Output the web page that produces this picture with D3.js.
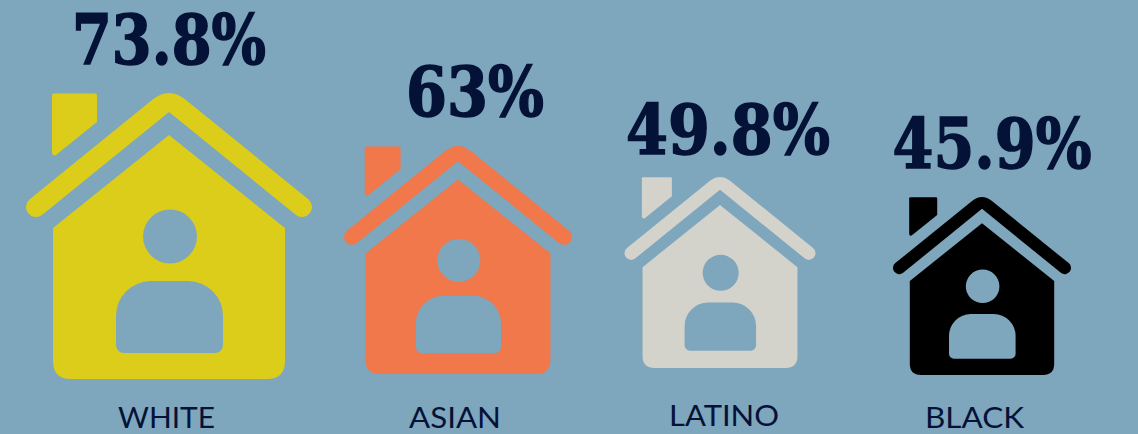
<!DOCTYPE html>
<html><head><meta charset="utf-8">
<script src="https://cdnjs.cloudflare.com/ajax/libs/d3/7.8.5/d3.min.js"></script>
<style>html,body{margin:0;padding:0;background:#7ea6bc}svg{display:block}</style>
</head><body><script>
const categories = ["WHITE","ASIAN","LATINO","BLACK"];
const values = [73.8,63,49.8,45.9];
const valueLabels = ["73.8%","63%","49.8%","45.9%"];
const colors = ["#dbcd1a","#f0784a","#d3d2cb","#000000"];

const W=1138,H=434,BG="#7ea6bc",INK="#051237";
// layout, kept apart from the data
const sizeScale = d3.scaleLinear().domain([45.9,49.8,63,73.8]).range([178,191,228,286]);
const centerX = d3.scaleOrdinal(categories,[169,458,720,982]);
const houseBottom = d3.scaleOrdinal(categories,[379,374,368,375]);
const valueBox = d3.scaleOrdinal(categories,[[169,64,194],[475,116,138],[728,154,204],[992,168,199]]);
const nameBox = d3.scaleOrdinal(categories,[[166.5,428,97],[455,428,92],[724,426,110],[974.5,428.2,99]]);

// house shape in a 286-wide unit box, origin at centre-top
function bodyPath(){
  const p=d3.path(), r=18;
  p.moveTo(0,42);p.lineTo(116,135);p.lineTo(116,286-r);
  p.quadraticCurveTo(116,286,116-r,286);p.lineTo(-116+r,286);
  p.quadraticCurveTo(-116,286,-116,286-r);p.lineTo(-116,135);p.closePath();
  p.moveTo(28,143.5);p.arc(1,143.5,27,0,2*Math.PI);p.closePath();
  const l=-53,rr=54,t=188,b=260,a=35,c=8;
  p.moveTo(l+a,t);p.lineTo(rr-a,t);p.arcTo(rr,t,rr,t+a,a);p.lineTo(rr,b-c);p.arcTo(rr,b,rr-c,b,c);
  p.lineTo(l+c,b);p.arcTo(l,b,l,b-c,c);p.lineTo(l,t+a);p.arcTo(l,t,l+a,t,a);p.closePath();
  return p.toString();
}
function chimneyPath(){
  const p=d3.path();
  p.moveTo(-115,0.5);p.lineTo(-74,0.5);p.quadraticCurveTo(-72,0.5,-72,2.5);p.lineTo(-72,29);
  p.lineTo(-113,62);p.quadraticCurveTo(-117,63,-117,59);p.lineTo(-117,2);p.quadraticCurveTo(-117,0.5,-115,0.5);p.closePath();
  return p.toString();
}
function roofPath(){
  // filled roof band: sharp inner apex, softened outer apex, round ends
  const h=10, ex=133, ey=114, m=0.81, nx=0.63, ny=0.777;
  const outerY=x=>(ey-ex*m-h*Math.hypot(1,m))+Math.abs(x)*m;
  const p=d3.path(), e=16;
  const a0=Math.atan2(ny,nx);
  p.moveTo(-e,outerY(e));
  p.quadraticCurveTo(0,outerY(0),e,outerY(e));
  p.lineTo(ex+nx*h,ey-ny*h);
  p.arc(ex,ey,h,-a0,-a0+Math.PI);
  p.lineTo(0,19);
  p.lineTo(-ex+nx*h,ey+ny*h);
  p.arc(-ex,ey,h,a0,a0+Math.PI);
  p.closePath();
  return p.toString();
}

const svg=d3.select("body").append("svg").attr("width",W).attr("height",H);
svg.append("rect").attr("width",W).attr("height",H).attr("fill",BG);
const rows=categories.map((c,i)=>({c,v:values[i],l:valueLabels[i],col:colors[i]}));
const g=svg.selectAll("g.house").data(rows).join("g").attr("class","house")
  .attr("transform",d=>{const s=sizeScale(d.v)/286;return `translate(${centerX(d.c)},${houseBottom(d.c)-286*s}) scale(${s})`;});
g.append("path").attr("d",chimneyPath()).attr("fill",d=>d.col);
g.append("path").attr("d",roofPath()).attr("fill",d=>d.col);
g.append("path").attr("d",bodyPath()).attr("fill",d=>d.col).attr("fill-rule","evenodd");

svg.selectAll("text.value").data(rows).join("text").attr("class","value")
  .attr("x",d=>valueBox(d.c)[0]).attr("y",d=>valueBox(d.c)[1]).attr("text-anchor","middle")
  .attr("font-family","'DejaVu Serif',serif").attr("font-weight",700).attr("font-size",69)
  .attr("fill",INK).attr("stroke",INK).attr("stroke-width",1.6)
  .attr("textLength",d=>valueBox(d.c)[2]).attr("lengthAdjust","spacingAndGlyphs").text(d=>d.l);
svg.selectAll("text.name").data(rows).join("text").attr("class","name")
  .attr("x",d=>nameBox(d.c)[0]).attr("y",d=>nameBox(d.c)[1]).attr("text-anchor","middle")
  .attr("font-family","Lato,'Noto Sans',sans-serif").attr("font-size",28.5)
  .attr("fill",INK)
  .attr("textLength",d=>nameBox(d.c)[2]).attr("lengthAdjust","spacingAndGlyphs").text(d=>d.c);
</script></body></html>
